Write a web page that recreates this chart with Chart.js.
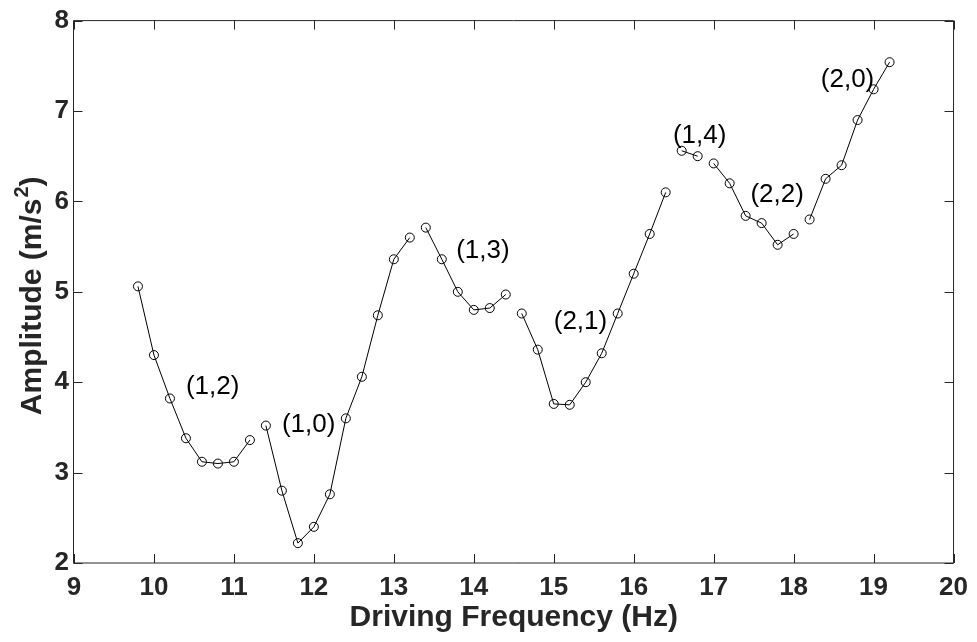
<!DOCTYPE html>
<html>
<head>
<meta charset="utf-8">
<script src="https://cdn.jsdelivr.net/npm/chart.js@4.4.1/dist/chart.umd.min.js"></script>
<style>
  html, body { margin: 0; padding: 0; background: #ffffff; }
  #wrap { width: 977px; height: 642px; }
</style>
</head>
<body>
<div id="wrap"><canvas id="chart" width="977" height="642"></canvas></div>
<script>
// Driving frequency sweep (Hz) and measured acceleration amplitude (m/s^2)
const frequency = [
  9.8, 10.0, 10.2, 10.4, 10.6, 10.8, 11.0, 11.2,
  11.4, 11.6, 11.8, 12.0, 12.2, 12.4, 12.6, 12.8, 13.0, 13.2,
  13.4, 13.6, 13.8, 14.0, 14.2, 14.4,
  14.6, 14.8, 15.0, 15.2, 15.4, 15.6, 15.8, 16.0, 16.2, 16.4,
  16.6, 16.8,
  17.0, 17.2, 17.4, 17.6, 17.8, 18.0,
  18.2, 18.4, 18.6, 18.8, 19.0, 19.2
];
const amplitude = [
  5.06, 4.30, 3.82, 3.38, 3.12, 3.10, 3.12, 3.36,
  3.52, 2.80, 2.22, 2.40, 2.76, 3.60, 4.06, 4.74, 5.36, 5.60,
  5.71, 5.36, 5.00, 4.80, 4.82, 4.97,
  4.76, 4.36, 3.76, 3.75, 4.00, 4.32, 4.76, 5.20, 5.64, 6.10,
  6.56, 6.50,
  6.42, 6.20, 5.84, 5.76, 5.52, 5.64,
  5.80, 6.25, 6.40, 6.90, 7.24, 7.54
];
// Each sweep ends at one of these frequencies; the line is not joined across them
const sweepEnds = [11.2, 13.2, 14.4, 16.4, 16.8, 18.0];

// Mode labels (m,n) placed next to their sweeps
const modeNames = ['(1,2)', '(1,0)', '(1,3)', '(2,1)', '(1,4)', '(2,2)', '(2,0)'];
const modeLabelFreq = [10.40, 11.60, 13.78, 15.00, 16.49, 17.46, 18.34];
const modeLabelAmp = [3.95, 3.53, 5.45, 4.67, 6.72, 6.07, 7.35];

const xTicks = [9, 10, 11, 12, 13, 14, 15, 16, 17, 18, 19, 20];
const yTicks = [2, 3, 4, 5, 6, 7, 8];

const FONT = "'Liberation Sans', Arial, Helvetica, sans-serif";
const AXIS_COLOR = '#262626';

const points = frequency.map((f, i) => ({ x: f, y: amplitude[i] }));

// Box around the axes with inward tick marks on all four sides,
// the y-axis label with a raised exponent, and the mode labels
const axesBox = {
  id: 'axesBox',
  afterDatasetsDraw(chart) {
    const { ctx, chartArea: a, scales } = chart;
    const xs = scales.x, ys = scales.y;
    const L = a.left - 0.5, R = a.right, T = a.top, B = a.bottom;
    const tl = 9;
    ctx.save();
    ctx.strokeStyle = AXIS_COLOR;
    ctx.lineWidth = 1;
    ctx.beginPath();
    ctx.moveTo(L, T); ctx.lineTo(R, T); ctx.lineTo(R, B); ctx.lineTo(L, B); ctx.closePath();
    xTicks.forEach(v => {
      const px = Math.round(xs.getPixelForValue(v)) + 0.5;
      ctx.moveTo(px, B); ctx.lineTo(px, B - tl);
      ctx.moveTo(px, T); ctx.lineTo(px, T + tl);
    });
    yTicks.forEach(v => {
      const py = Math.round(ys.getPixelForValue(v)) + 0.5;
      ctx.moveTo(L, py); ctx.lineTo(L + tl, py);
      ctx.moveTo(R, py); ctx.lineTo(R - tl, py);
    });
    ctx.stroke();
    ctx.restore();
  },
  afterDraw(chart) {
    const { ctx, scales, chartArea: a } = chart;
    ctx.save();
    ctx.fillStyle = '#000000';
    ctx.font = '26px ' + FONT;
    ctx.textAlign = 'left';
    ctx.textBaseline = 'middle';
    modeNames.forEach((name, i) => {
      ctx.fillText(name, scales.x.getPixelForValue(modeLabelFreq[i]), scales.y.getPixelForValue(modeLabelAmp[i]));
    });
    ctx.restore();

    // y-axis title: "Amplitude (m/s" + superscript 2 + ")"
    const mainFont = 'bold 30px ' + FONT;
    const supFont = 'bold 20px ' + FONT;
    ctx.save();
    ctx.fillStyle = AXIS_COLOR;
    ctx.textBaseline = 'alphabetic';
    ctx.textAlign = 'left';
    ctx.font = mainFont;
    const w1 = ctx.measureText('Amplitude (m/s').width;
    const w3 = ctx.measureText(')').width;
    ctx.font = supFont;
    const w2 = ctx.measureText('2').width + 1;
    const total = w1 + w2 + w3;
    const cy = (a.top + a.bottom) / 2 + 4;
    ctx.translate(41, cy + total / 2);
    ctx.rotate(-Math.PI / 2);
    ctx.font = mainFont;
    ctx.fillText('Amplitude (m/s', 0, 0);
    ctx.font = supFont;
    ctx.fillText('2', w1 + 1, -13);
    ctx.font = mainFont;
    ctx.fillText(')', w1 + w2, 0);
    ctx.restore();
  }
};

new Chart(document.getElementById('chart'), {
  type: 'line',
  data: {
    datasets: [{
      data: points,
      borderColor: '#000000',
      borderWidth: 1,
      backgroundColor: 'rgba(0,0,0,0)',
      pointStyle: 'circle',
      pointRadius: 4.5,
      pointBorderWidth: 1,
      pointBorderColor: '#000000',
      pointBackgroundColor: 'rgba(0,0,0,0)',
      tension: 0,
      fill: false,
      segment: {
        borderColor: c => sweepEnds.includes(c.p0.parsed.x) ? 'rgba(0,0,0,0)' : '#000000'
      }
    }]
  },
  options: {
    responsive: false,
    animation: false,
    devicePixelRatio: 1,
    layout: { padding: { top: 15, right: 18, left: 0, bottom: 0 } },
    plugins: { legend: { display: false }, tooltip: { enabled: false } },
    scales: {
      x: {
        type: 'linear',
        min: 9, max: 20,
        afterBuildTicks: s => { s.ticks = xTicks.map(v => ({ value: v })); },
        afterFit: s => { s.height = 79; },
        grid: { display: false, drawTicks: false },
        border: { display: false },
        ticks: { color: AXIS_COLOR, padding: 9, font: { family: FONT, size: 26, weight: 'bold' } },
        title: {
          display: true,
          text: 'Driving Frequency (Hz)',
          color: AXIS_COLOR,
          padding: { top: 0, bottom: 6 },
          font: { family: FONT, size: 30, weight: 'bold' }
        }
      },
      y: {
        type: 'linear',
        min: 2, max: 8,
        afterBuildTicks: s => { s.ticks = yTicks.map(v => ({ value: v })); },
        afterFit: s => { s.width = 74; },
        grid: { display: false, drawTicks: false },
        border: { display: false },
        ticks: { color: AXIS_COLOR, padding: 5, font: { family: FONT, size: 26, weight: 'bold' } },
        title: { display: false }
      }
    }
  },
  plugins: [axesBox]
});
</script>
</body>
</html>
